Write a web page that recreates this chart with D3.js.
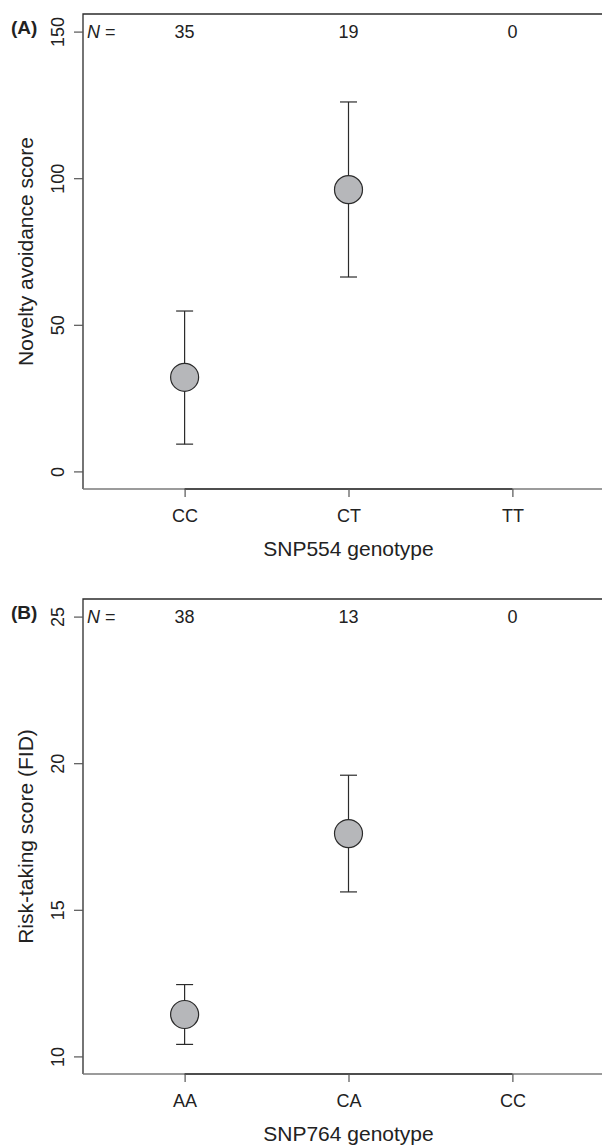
<!DOCTYPE html>
<html>
<head>
<meta charset="utf-8">
<script src="https://cdn.jsdelivr.net/npm/d3@7"></script>
<style>
  html, body { margin: 0; padding: 0; background: #fff; }
  svg { display: block; font-family: "Liberation Sans", Arial, Helvetica, sans-serif; }
</style>
</head>
<body>
<svg id="chart" width="602" height="1145"></svg>
<script>
// ---- Data ----
const categoriesA = ["CC", "CT", "TT"];
const countsA = [35, 19, 0];
const meansA = [32.1, 96.1];
const upperA = [54.7, 126.0];
const lowerA = [9.3, 66.3];
const yTicksA = [0, 50, 100, 150];

const categoriesB = ["AA", "CA", "CC"];
const countsB = [38, 13, 0];
const meansB = [11.43, 17.60];
const upperB = [12.45, 19.59];
const lowerB = [10.41, 15.61];
const yTicksB = [10, 15, 20, 25];

const panels = [
  { tag: "(A)", cats: categoriesA, n: countsA, mean: meansA, hi: upperA, lo: lowerA,
    ticks: yTicksA, ylim: [0, 150], top: 14, bottom: 489,
    ylab: "Novelty avoidance score", xlab: "SNP554 genotype" },
  { tag: "(B)", cats: categoriesB, n: countsB, mean: meansB, hi: upperB, lo: lowerB,
    ticks: yTicksB, ylim: [10, 25], top: 599, bottom: 1074,
    ylab: "Risk-taking score (FID)", xlab: "SNP764 genotype" }
];

const svg = d3.select("#chart");
const left = 83, right = 614;
// R-style 4% expansion of xlim c(0.5, 3.5)
const x = d3.scaleLinear().domain([0.38, 3.62]).range([left, right]);
const dark = "#2b2b2b";

panels.forEach(p => {
  const span = p.ylim[1] - p.ylim[0];
  const y = d3.scaleLinear()
    .domain([p.ylim[0] - 0.04 * span, p.ylim[1] + 0.04 * span])
    .range([p.bottom, p.top]);
  const g = svg.append("g");

  // box: top, left, right (off-canvas)
  g.append("path")
    .attr("d", `M${left},${p.bottom}V${p.top}H${right}V${p.bottom}`)
    .attr("fill", "none").attr("stroke", dark).attr("stroke-width", 1.3);
  // bottom box line (lighter)
  g.append("line")
    .attr("x1", left).attr("x2", right).attr("y1", p.bottom).attr("y2", p.bottom)
    .attr("stroke", "#7a7a7a").attr("stroke-width", 1.6);
  // axis line between first and last tick
  g.append("line")
    .attr("x1", x(1)).attr("x2", x(3)).attr("y1", p.bottom).attr("y2", p.bottom)
    .attr("stroke", "#333").attr("stroke-width", 1.6);

  // y axis
  const yAxis = g.append("g")
    .attr("transform", `translate(${left},0)`)
    .call(d3.axisLeft(y).tickValues(p.ticks).tickSize(9).tickFormat(d3.format("d")));
  yAxis.select(".domain").remove();
  yAxis.selectAll(".tick line").attr("stroke", "#555").attr("stroke-width", 1.2);
  yAxis.selectAll(".tick text")
    .attr("x", null).attr("dy", null)
    .attr("transform", "translate(-19,0) rotate(-90)")
    .attr("text-anchor", "middle")
    .attr("fill", "#222")
    .style("font-size", "18px")
    .style("font-family", "'Liberation Sans', Arial, sans-serif");

  // x axis
  const xAxis = g.append("g")
    .attr("transform", `translate(0,${p.bottom})`)
    .call(d3.axisBottom(x).tickValues([1, 2, 3]).tickSize(8).tickFormat((d, i) => p.cats[i]));
  xAxis.select(".domain").remove();
  xAxis.selectAll(".tick line").attr("stroke", "#555").attr("stroke-width", 1.2);
  xAxis.selectAll(".tick text")
    .attr("y", 33).attr("dy", null)
    .attr("fill", "#222")
    .style("font-size", "18px")
    .style("font-family", "'Liberation Sans', Arial, sans-serif");

  // axis titles
  g.append("text")
    .attr("transform", `translate(33,${(p.top + p.bottom) / 2}) rotate(-90)`)
    .attr("text-anchor", "middle")
    .attr("fill", "#222")
    .style("font-size", "21px")
    .text(p.ylab);
  g.append("text")
    .attr("x", x(2)).attr("y", p.bottom + 67)
    .attr("text-anchor", "middle")
    .attr("fill", "#222")
    .style("font-size", "21px")
    .text(p.xlab);

  // panel tag
  g.append("text")
    .attr("x", 11).attr("y", p.top + 20)
    .attr("font-weight", "bold")
    .attr("fill", "#222")
    .style("font-size", "19px")
    .text(p.tag);

  // N labels
  const nY = p.top + 24;
  const nt = g.append("text")
    .attr("x", 87).attr("y", nY)
    .attr("fill", "#222")
    .style("font-size", "18px");
  nt.append("tspan").attr("font-style", "italic").text("N");
  nt.append("tspan").text(" =");
  g.selectAll(".ncount").data(p.n).enter().append("text")
    .attr("class", "ncount")
    .attr("x", (d, i) => x(i + 1)).attr("y", nY)
    .attr("text-anchor", "middle")
    .attr("fill", "#222")
    .style("font-size", "18px")
    .text(d => d);

  // error bars
  const pts = p.mean.map((m, i) => ({ i: i + 1, m, hi: p.hi[i], lo: p.lo[i] }));
  const eb = g.selectAll(".eb").data(pts).enter().append("g").attr("class", "eb")
    .attr("stroke", dark).attr("stroke-width", 1.2);
  eb.append("line")
    .attr("x1", d => x(d.i)).attr("x2", d => x(d.i))
    .attr("y1", d => y(d.hi)).attr("y2", d => y(d.lo));
  eb.append("line")
    .attr("x1", d => x(d.i) - 8.5).attr("x2", d => x(d.i) + 8.5)
    .attr("y1", d => y(d.hi)).attr("y2", d => y(d.hi));
  eb.append("line")
    .attr("x1", d => x(d.i) - 8.5).attr("x2", d => x(d.i) + 8.5)
    .attr("y1", d => y(d.lo)).attr("y2", d => y(d.lo));

  // points
  g.selectAll(".pt").data(pts).enter().append("circle")
    .attr("class", "pt")
    .attr("cx", d => x(d.i)).attr("cy", d => y(d.m))
    .attr("r", 14)
    .attr("fill", "#b6b7ba")
    .attr("stroke", dark).attr("stroke-width", 1.2);
});
</script>
</body>
</html>
